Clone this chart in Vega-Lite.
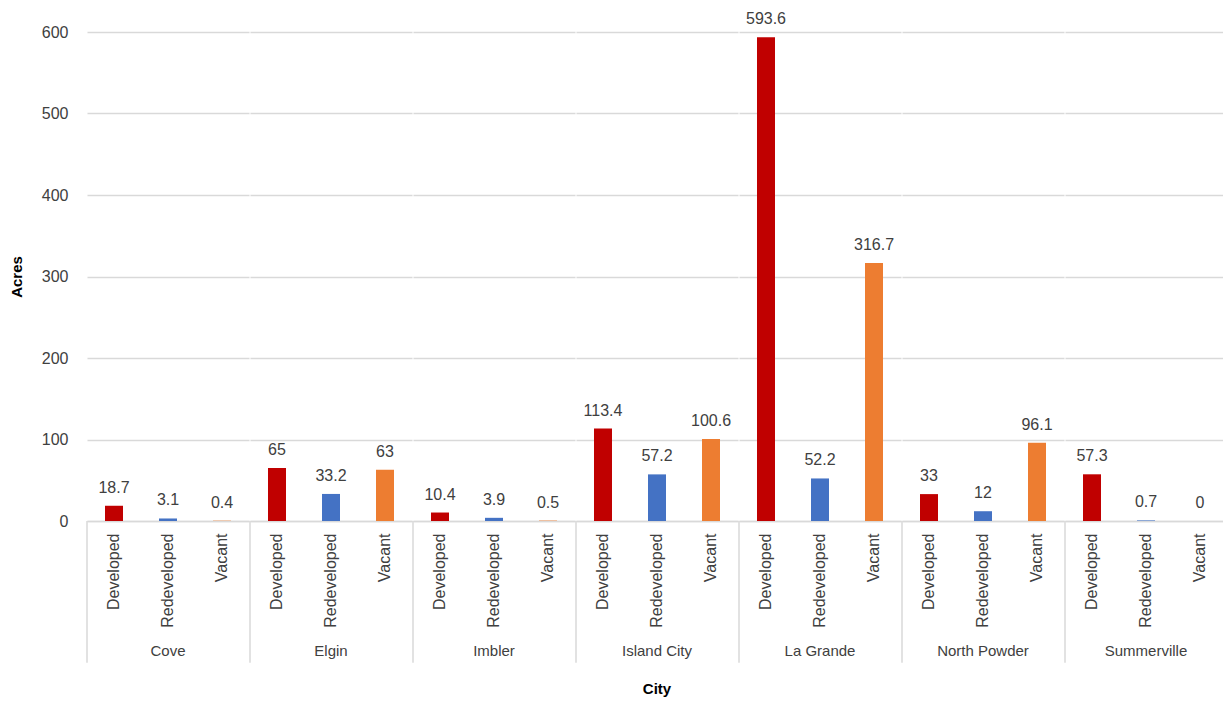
{
  "$schema": "https://vega.github.io/schema/vega-lite/v6.json",
  "background": "white",
  "padding": {"left": 9, "top": 11, "right": 0, "bottom": 0},
  "data": {"values": [
    {"City": "Cove", "Type": "Developed", "Acres": 18.7},
    {"City": "Cove", "Type": "Redeveloped", "Acres": 3.1},
    {"City": "Cove", "Type": "Vacant", "Acres": 0.4},
    {"City": "Elgin", "Type": "Developed", "Acres": 65},
    {"City": "Elgin", "Type": "Redeveloped", "Acres": 33.2},
    {"City": "Elgin", "Type": "Vacant", "Acres": 63},
    {"City": "Imbler", "Type": "Developed", "Acres": 10.4},
    {"City": "Imbler", "Type": "Redeveloped", "Acres": 3.9},
    {"City": "Imbler", "Type": "Vacant", "Acres": 0.5},
    {"City": "Island City", "Type": "Developed", "Acres": 113.4},
    {"City": "Island City", "Type": "Redeveloped", "Acres": 57.2},
    {"City": "Island City", "Type": "Vacant", "Acres": 100.6},
    {"City": "La Grande", "Type": "Developed", "Acres": 593.6},
    {"City": "La Grande", "Type": "Redeveloped", "Acres": 52.2},
    {"City": "La Grande", "Type": "Vacant", "Acres": 316.7},
    {"City": "North Powder", "Type": "Developed", "Acres": 33},
    {"City": "North Powder", "Type": "Redeveloped", "Acres": 12},
    {"City": "North Powder", "Type": "Vacant", "Acres": 96.1},
    {"City": "Summerville", "Type": "Developed", "Acres": 57.3},
    {"City": "Summerville", "Type": "Redeveloped", "Acres": 0.7},
    {"City": "Summerville", "Type": "Vacant", "Acres": 0}
  ]},
  "facet": {
    "column": {
      "field": "City", "type": "nominal",
      "header": {
        "title": "City",
        "labelOrient": "bottom",
        "titleOrient": "bottom",
        "labelFontSize": 15,
        "labelColor": "#404040",
        "labelPadding": -20,
        "titleFontSize": 15,
        "titleFontWeight": "bold",
        "titleColor": "#000000",
        "titlePadding": 8
      }
    }
  },
  "spacing": 0,
  "resolve": {"scale": {"x": "independent"}},
  "spec": {
    "width": 162,
    "height": 489,
    "encoding": {
      "x": {
        "field": "Type", "type": "nominal",
        "scale": {"paddingInner": 0.6667, "paddingOuter": 0.3333},
        "axis": {
          "title": null,
          "labelAngle": -90,
          "labelFontSize": 16,
          "labelColor": "#404040",
          "ticks": false,
          "tickSize": 0,
          "labelPadding": 12,
          "domainColor": "#D9D9D9",
          "domainWidth": 1.5
        }
      }
    },
    "layer": [
      {
        "mark": {"type": "bar"},
        "encoding": {
          "y": {
            "field": "Acres", "type": "quantitative",
            "scale": {"domain": [0, 600], "nice": false},
            "axis": {
              "title": "Acres",
              "values": [0, 100, 200, 300, 400, 500, 600],
              "titleFontSize": 15,
              "titleFontWeight": "bold",
              "titleColor": "#000000",
              "titlePadding": 17,
              "labelFontSize": 16,
              "labelColor": "#404040",
              "ticks": false,
              "tickSize": 0,
              "labelPadding": 18,
              "domain": false,
              "gridColor": "#D9D9D9",
              "gridWidth": 1.5
            }
          },
          "color": {
            "field": "Type", "type": "nominal",
            "scale": {"domain": ["Developed", "Redeveloped", "Vacant"], "range": ["#C00000", "#4472C4", "#ED7D31"]},
            "legend": null
          }
        }
      },
      {
        "mark": {"type": "text", "baseline": "alphabetic", "dy": -13, "fontSize": 16, "color": "#404040"},
        "encoding": {
          "y": {"field": "Acres", "type": "quantitative"},
          "text": {"field": "Acres", "type": "quantitative"}
        }
      },
      {
        "transform": [{"filter": "datum.Type === 'Developed'"}],
        "mark": {"type": "rule", "color": "#D9D9D9", "strokeWidth": 1.5},
        "encoding": {
          "x": {"field": "Type", "type": "nominal", "bandPosition": -1},
          "y": {"datum": 0, "type": "quantitative"},
          "y2": {"datum": -174}
        }
      }
    ]
  },
  "config": {
    "font": "Liberation Sans",
    "view": {"stroke": null}
  }
}
